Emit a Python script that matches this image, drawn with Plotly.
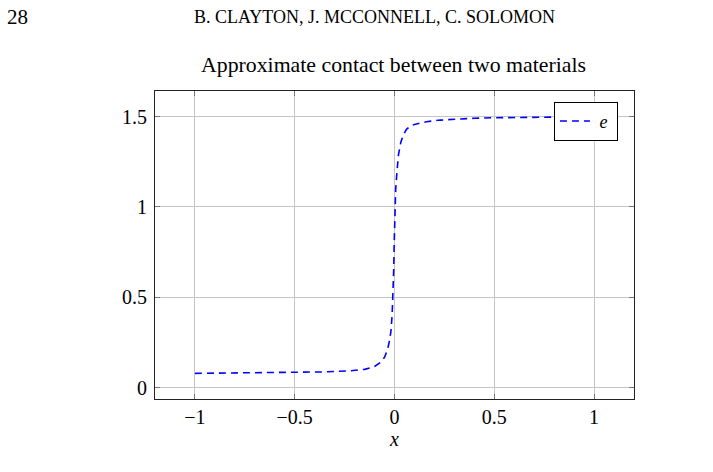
import plotly.graph_objects as go

# Data
x_vals = [-1.0, -0.75, -0.5, -0.35, -0.22, -0.15, -0.1, -0.088, -0.07, -0.05, -0.035, -0.025,
          -0.018, -0.012, -0.008, -0.004, -0.0015, 0.002, 0.006, 0.012, 0.02, 0.032, 0.045,
          0.06, 0.08, 0.1, 0.13, 0.16, 0.23, 0.31, 0.4, 0.5, 0.65, 0.8, 1.0]
e_vals = [0.079, 0.081, 0.083, 0.087, 0.093, 0.101, 0.117, 0.127, 0.14, 0.168, 0.21, 0.26,
          0.31, 0.4, 0.5, 0.65, 0.8, 1.0, 1.1, 1.19, 1.29, 1.36, 1.4,
          1.43, 1.448, 1.457, 1.466, 1.472, 1.481, 1.487, 1.491, 1.494, 1.497, 1.498, 1.5]

x_ticks = [-1, -0.5, 0, 0.5, 1]
x_tick_text = ["\u22121", "\u22120.5", "0", "0.5", "1"]
y_ticks = [0, 0.5, 1, 1.5]
y_tick_text = ["0", "0.5", "1", "1.5"]

SERIF = "Liberation Serif"

fig = go.Figure()
fig.add_trace(go.Scatter(
    x=x_vals, y=e_vals, mode="lines", name=" <i>e</i> ",
    line=dict(color="#0000ff", width=1.6, dash="7px,5px"),
))

axis_common = dict(
    showgrid=True, gridcolor="#c4c4c4", gridwidth=1,
    showline=True, linecolor="#222222", linewidth=1, mirror="ticks",
    ticks="inside", ticklen=5, tickcolor="#777777", tickwidth=1,
    zeroline=False,
    tickfont=dict(family=SERIF, size=20, color="black"),
)

fig.update_layout(
    width=713, height=472,
    margin=dict(l=155, r=79, t=91, b=73),
    paper_bgcolor="white", plot_bgcolor="white",
    showlegend=True,
    legend=dict(
        x=0.9665, y=0.965, xanchor="right", yanchor="top",
        bgcolor="white", bordercolor="black", borderwidth=1,
        font=dict(family=SERIF, size=18, color="black"),
        itemwidth=30, tracegroupgap=0,
    ),
    xaxis=dict(range=[-1.2, 1.2], tickvals=x_ticks, ticktext=x_tick_text,
               title=dict(text="<i>x</i>", font=dict(family=SERIF, size=20, color="black"), standoff=1),
               **axis_common),
    yaxis=dict(range=[-0.063, 1.642], tickvals=y_ticks, ticktext=y_tick_text,
               ticklabelstandoff=3, **axis_common),
    annotations=[
        dict(text="Approximate contact between two materials", x=0.5, y=65, xref="paper", yref="paper",
             showarrow=False, font=dict(family=SERIF, size=21.8, color="black")),
        dict(text="28", x=5, y=17, xref="paper", yref="paper", showarrow=False,
             font=dict(family=SERIF, size=21, color="black")),
        dict(text="B. CLAYTON, J. MCCONNELL, C. SOLOMON", x=374, y=17, xref="paper", yref="paper",
             showarrow=False, font=dict(family=SERIF, size=18, color="black")),
    ],
)

# convert pixel annotation positions to paper coordinates
pw = 713 - 155 - 79
ph = 472 - 91 - 73
new_ann = []
for a in fig.layout.annotations:
    a = a.to_plotly_json()
    if a["text"] == "28":
        a["x"] = (5 - 155) / pw
        a["xanchor"] = "left"
    elif a["text"].startswith("B."):
        a["x"] = (374 - 155) / pw
    else:
        a["x"] = (393.5 - 155) / pw
    ypix = a["y"]
    a["y"] = (472 - 73 - ypix) / ph
    a["yanchor"] = "middle"
    new_ann.append(a)
fig.layout.annotations = new_ann

fig.write_html("out.html")
